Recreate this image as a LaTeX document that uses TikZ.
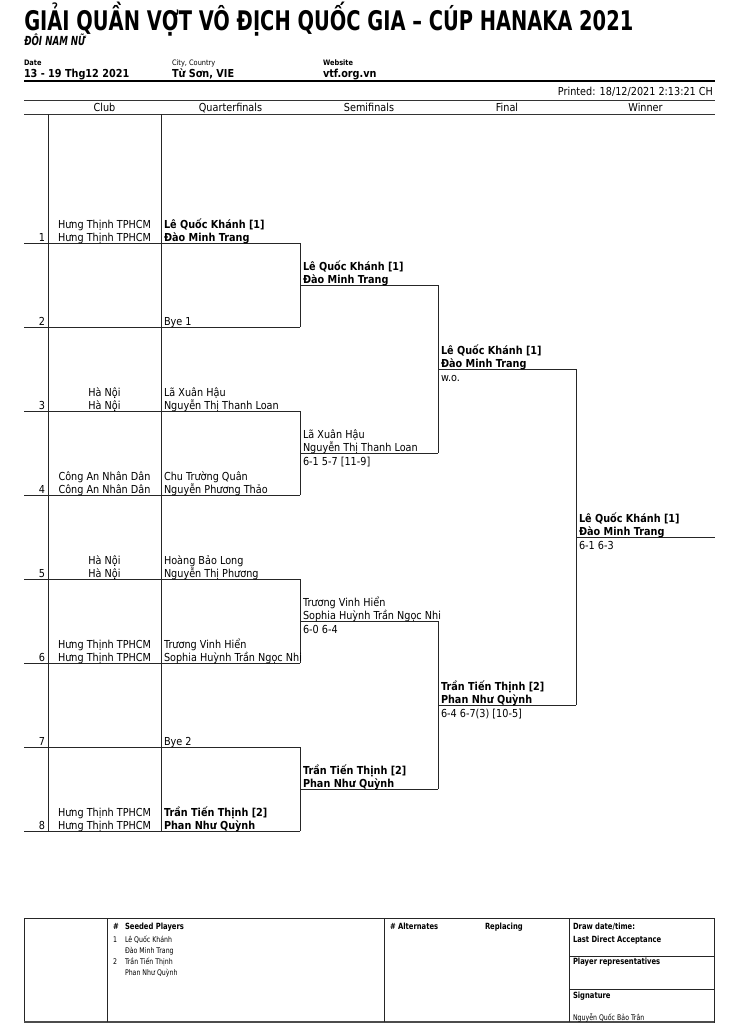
\documentclass[tikz,border=0pt]{standalone}
\usepackage{fontspec}
\usepackage{graphicx}
\setmainfont{DejaVu Sans}[FakeStretch=0.88]
\newfontfamily\narrowf{DejaVu Sans}[FakeStretch=0.8]
\newlength\px
\setlength\px{0.75pt}
\newcommand\fs[1]{\fontsize{#1\px}{#1\px}\selectfont}
\tikzset{
  tl/.style={anchor=base west, inner sep=0pt, outer sep=0pt, font=\fs{11}},
  tlb/.style={tl, font=\fs{11}\bfseries},
  tc/.style={anchor=base, inner sep=0pt, outer sep=0pt, font=\fs{11}},
  tr/.style={anchor=base east, inner sep=0pt, outer sep=0pt, font=\fs{11}},
  sm/.style={anchor=base west, inner sep=0pt, outer sep=0pt, font=\narrowf\fs{7.8}},
  smb/.style={anchor=base west, inner sep=0pt, outer sep=0pt, font=\narrowf\fs{8.5}\bfseries},
  ln/.style={line width=1\px, black!85},
  thick rule/.style={line width=2\px, black},
  mid rule/.style={line width=1.5\px, black!80},
}
\begin{document}
\begin{tikzpicture}[x=0.75pt, y=-0.75pt]
\useasboundingbox (0,0) rectangle (730,1028);
% ---------- header ----------
\node[anchor=base west, inner sep=0pt] (title) at (24,30.5)
  {\resizebox{609\px}{\height}{\fs{27}\bfseries GIẢI QUẦN VỢT VÔ ĐỊCH QUỐC GIA – CÚP HANAKA 2021}};
\node[anchor=base west, inner sep=0pt] (event) at (24,45.5)
  {\resizebox{61\px}{\height}{\fs{12.5}\bfseries\itshape ĐÔI NAM NỮ}};
\node[tl, font=\fs{7.5}\bfseries] (datel) at (24,65) {Date};
\node[tlb] (date) at (24,77) {13 - 19 Thg12 2021};
\node[tl, font=\fs{7.5}] (cityl) at (172,65) {City, Country};
\node[tlb] (city) at (172,77) {Từ Sơn, VIE};
\node[tl, font=\fs{7.5}\bfseries] (webl) at (323,65) {Website};
\node[tlb] (web) at (323,77) {vtf.org.vn};
\draw[thick rule] (24,80.5) -- (715,80.5);
\node[tr] (printed) at (713,95) {Printed: 18/12/2021 2:13:21 CH};
\draw[mid rule] (24,100.5) -- (715,100.5);
\node[tc] (hclub) at (104.5,111) {Club};
\node[tc] (hqf) at (230.5,111) {Quarterfinals};
\node[tc] (hsf) at (369,111) {Semifinals};
\node[tc] (hf) at (507,111) {Final};
\node[tc] (hw) at (645.5,111) {Winner};
\draw[mid rule] (24,114.5) -- (715,114.5);
% ---------- draw grid ----------
\draw[ln] (48,114) -- (48,831);
\draw[ln] (161,114) -- (161,831);
\foreach \y in {243,327,411,495,579,663,747,831}
  \draw[ln] (24,\y) -- (300,\y);
\foreach \a/\b in {243/327,411/495,579/663,747/831}
  \draw[ln] (300,\a) -- (300,\b);
\foreach \y in {285,453,621,789}
  \draw[ln] (300,\y) -- (438,\y);
\foreach \a/\b in {285/453,621/789}
  \draw[ln] (438,\a) -- (438,\b);
\foreach \y in {369,705}
  \draw[ln] (438,\y) -- (576,\y);
\draw[ln] (576,369) -- (576,705);
\draw[ln] (576,537) -- (715,537);
% ---------- rows ----------
\foreach \k/\y in {1/241,2/325,3/409,4/493,5/577,6/661,7/745,8/829}
  \node[tr] (n\k) at (45,\y) {\k};
% row 1
\node[tc] (c1a) at (104.5,228) {Hưng Thịnh TPHCM};
\node[tc] (c1b) at (104.5,241) {Hưng Thịnh TPHCM};
\node[tlb] (p1a) at (164,228) {Lê Quốc Khánh [1]};
\node[tlb] (p1b) at (164,241) {Đào Minh Trang};
% row 2
\node[tl] (p2b) at (164,325) {Bye 1};
% row 3
\node[tc] (c3a) at (104.5,396) {Hà Nội};
\node[tc] (c3b) at (104.5,409) {Hà Nội};
\node[tl] (p3a) at (164,396) {Lã Xuân Hậu};
\node[tl] (p3b) at (164,409) {Nguyễn Thị Thanh Loan};
% row 4
\node[tc] (c4a) at (104.5,480) {Công An Nhân Dân};
\node[tc] (c4b) at (104.5,493) {Công An Nhân Dân};
\node[tl] (p4a) at (164,480) {Chu Trường Quân};
\node[tl] (p4b) at (164,493) {Nguyễn Phương Thảo};
% row 5
\node[tc] (c5a) at (104.5,564) {Hà Nội};
\node[tc] (c5b) at (104.5,577) {Hà Nội};
\node[tl] (p5a) at (164,564) {Hoàng Bảo Long};
\node[tl] (p5b) at (164,577) {Nguyễn Thị Phương};
% row 6
\node[tc] (c6a) at (104.5,648) {Hưng Thịnh TPHCM};
\node[tc] (c6b) at (104.5,661) {Hưng Thịnh TPHCM};
\node[tl] (p6a) at (164,648) {Trương Vinh Hiển};
\node[tl] (p6b) at (164,661) {Sophia Huỳnh Trần Ngọc Nhi};
% row 7
\node[tl] (p7b) at (164,745) {Bye 2};
% row 8
\node[tc] (c8a) at (104.5,816) {Hưng Thịnh TPHCM};
\node[tc] (c8b) at (104.5,829) {Hưng Thịnh TPHCM};
\node[tlb] (p8a) at (164,816) {Trần Tiến Thịnh [2]};
\node[tlb] (p8b) at (164,829) {Phan Như Quỳnh};
% ---------- semifinals ----------
\node[tlb] (s1a) at (303,270) {Lê Quốc Khánh [1]};
\node[tlb] (s1b) at (303,283) {Đào Minh Trang};
\node[tl] (s2a) at (303,438) {Lã Xuân Hậu};
\node[tl] (s2b) at (303,451) {Nguyễn Thị Thanh Loan};
\node[tl] (s2s) at (303,465) {6-1 5-7 [11-9]};
\node[tl] (s3a) at (303,606) {Trương Vinh Hiển};
\node[tl] (s3b) at (303,619) {Sophia Huỳnh Trần Ngọc Nhi};
\node[tl] (s3s) at (303,633) {6-0 6-4};
\node[tlb] (s4a) at (303,774) {Trần Tiến Thịnh [2]};
\node[tlb] (s4b) at (303,787) {Phan Như Quỳnh};
% ---------- final ----------
\node[tlb] (f1a) at (441,354) {Lê Quốc Khánh [1]};
\node[tlb] (f1b) at (441,367) {Đào Minh Trang};
\node[tl] (f1s) at (441,381) {w.o.};
\node[tlb] (f2a) at (441,690) {Trần Tiến Thịnh [2]};
\node[tlb] (f2b) at (441,703) {Phan Như Quỳnh};
\node[tl] (f2s) at (441,717) {6-4 6-7(3) [10-5]};
% ---------- winner ----------
\node[tlb] (wa) at (579,522) {Lê Quốc Khánh [1]};
\node[tlb] (wb) at (579,535) {Đào Minh Trang};
\node[tl] (ws) at (579,549) {6-1 6-3};
% ---------- bottom table ----------
\draw[ln] (24,918) rectangle (714,1022);
\draw[line width=1.5\px, black!70] (24,1022) -- (714,1022);
\draw[ln] (107,918) -- (107,1022);
\draw[ln] (384,918) -- (384,1022);
\draw[ln] (569,918) -- (569,1022);
\draw[ln] (569,956) -- (714,956);
\draw[ln] (569,989) -- (714,989);
\node[smb] (seedh) at (113,929) {\#};
\node[smb] (seedt) at (125,929) {Seeded Players};
\node[sm] (sd1) at (113,942) {1};
\node[sm] (sd1a) at (125,942) {Lê Quốc Khánh};
\node[sm] (sd1b) at (125,953) {Đào Minh Trang};
\node[sm] (sd2) at (113,964) {2};
\node[sm] (sd2a) at (125,964) {Trần Tiến Thịnh};
\node[sm] (sd2b) at (125,975) {Phan Như Quỳnh};
\node[smb] (alt) at (390,929) {\# Alternates};
\node[smb] (rep) at (485,929) {Replacing};
\node[smb] (drawdt) at (573,929) {Draw date/time:};
\node[smb] (lda) at (573,942) {Last Direct Acceptance};
\node[smb] (prep) at (573,964) {Player representatives};
\node[smb] (sig) at (573,998) {Signature};
\node[sm] (signame) at (573,1020) {Nguyễn Quốc Bảo Trân};
\end{tikzpicture}
\end{document}
